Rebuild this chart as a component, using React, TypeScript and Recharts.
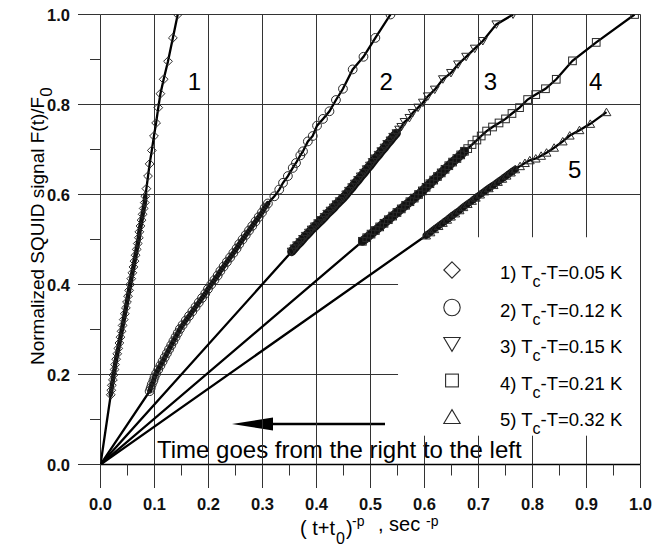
import React from 'react';
import {
  ComposedChart,
  Scatter,
  XAxis,
  YAxis,
  ReferenceLine,
  ReferenceDot,
  Customized,
} from 'recharts';

// ---------- data ----------
const ORIGIN: [number, number] = [0, 0];

// series 1: Tc-T = 0.05 K (diamonds)
const S1: [number, number][] = [
  [0.019, 0.155], [0.02, 0.165], [0.021, 0.176], [0.023, 0.188], [0.024, 0.199],
  [0.026, 0.211], [0.027, 0.222], [0.029, 0.234], [0.031, 0.246], [0.033, 0.258],
  [0.035, 0.27], [0.037, 0.283], [0.039, 0.296], [0.041, 0.309], [0.043, 0.322],
  [0.045, 0.335], [0.047, 0.348], [0.049, 0.361], [0.051, 0.374], [0.053, 0.387],
  [0.055, 0.4], [0.057, 0.413], [0.059, 0.426], [0.061, 0.439], [0.063, 0.452],
  [0.065, 0.465], [0.067, 0.478], [0.069, 0.491], [0.071, 0.504], [0.072, 0.517],
  [0.074, 0.53], [0.076, 0.543], [0.078, 0.556], [0.08, 0.569], [0.082, 0.582],
  [0.083, 0.596], [0.085, 0.613], [0.088, 0.641], [0.091, 0.668], [0.095, 0.698],
  [0.099, 0.73], [0.103, 0.759], [0.107, 0.793], [0.111, 0.824], [0.117, 0.856],
  [0.125, 0.896], [0.134, 0.948], [0.143, 1.0],
];

// series 2: Tc-T = 0.12 K (circles)
const S2: [number, number][] = [
  [0.091, 0.163], [0.093, 0.17], [0.095, 0.178], [0.098, 0.186], [0.1, 0.194],
  [0.103, 0.202], [0.107, 0.211], [0.111, 0.22], [0.115, 0.229], [0.119, 0.238],
  [0.123, 0.247], [0.127, 0.256], [0.131, 0.265], [0.135, 0.274], [0.139, 0.283],
  [0.143, 0.292], [0.147, 0.301], [0.152, 0.31], [0.158, 0.32], [0.164, 0.33],
  [0.17, 0.34], [0.176, 0.35], [0.182, 0.36], [0.188, 0.37], [0.194, 0.38],
  [0.199, 0.39], [0.205, 0.4], [0.211, 0.41], [0.217, 0.42], [0.222, 0.43],
  [0.228, 0.44], [0.234, 0.45], [0.24, 0.46], [0.246, 0.47], [0.252, 0.48],
  [0.257, 0.49], [0.263, 0.5], [0.269, 0.51], [0.275, 0.52], [0.281, 0.53],
  [0.287, 0.54], [0.293, 0.55], [0.299, 0.56], [0.304, 0.57], [0.31, 0.58],
  [0.322, 0.596], [0.331, 0.611], [0.338, 0.626], [0.347, 0.641], [0.356, 0.659],
  [0.362, 0.67], [0.37, 0.687], [0.375, 0.696], [0.384, 0.718], [0.393, 0.73],
  [0.401, 0.753], [0.412, 0.768], [0.424, 0.785], [0.436, 0.81], [0.449, 0.835],
  [0.467, 0.878], [0.487, 0.906], [0.509, 0.948], [0.537, 1.0],
];

// series 3: Tc-T = 0.15 K (down triangles)
const S3: [number, number][] = [
  [0.354, 0.473], [0.359, 0.48], [0.364, 0.487], [0.37, 0.494], [0.375, 0.501],
  [0.38, 0.508], [0.386, 0.515], [0.391, 0.522], [0.397, 0.529], [0.403, 0.536],
  [0.409, 0.543], [0.415, 0.55], [0.42, 0.557], [0.426, 0.564], [0.432, 0.571],
  [0.437, 0.578], [0.443, 0.585], [0.449, 0.592], [0.455, 0.6], [0.46, 0.608],
  [0.466, 0.616], [0.471, 0.624], [0.477, 0.632], [0.482, 0.64], [0.488, 0.648],
  [0.493, 0.656], [0.499, 0.664], [0.504, 0.672], [0.509, 0.68], [0.515, 0.688],
  [0.52, 0.696], [0.526, 0.704], [0.531, 0.712], [0.537, 0.72], [0.542, 0.728],
  [0.548, 0.736], [0.553, 0.744], [0.557, 0.75], [0.563, 0.761], [0.572, 0.77],
  [0.578, 0.781], [0.588, 0.793], [0.597, 0.804], [0.606, 0.818], [0.619, 0.833],
  [0.634, 0.856], [0.649, 0.87], [0.662, 0.889], [0.677, 0.906], [0.693, 0.924],
  [0.708, 0.941], [0.733, 0.978], [0.764, 1.0],
];

// series 4: Tc-T = 0.21 K (squares)
const S4: [number, number][] = [
  [0.485, 0.496], [0.493, 0.504], [0.501, 0.512], [0.509, 0.52], [0.517, 0.528],
  [0.525, 0.536], [0.533, 0.544], [0.541, 0.552], [0.549, 0.56], [0.557, 0.568],
  [0.565, 0.576], [0.573, 0.584], [0.581, 0.592], [0.589, 0.6], [0.596, 0.608],
  [0.603, 0.616], [0.61, 0.624], [0.617, 0.632], [0.624, 0.64], [0.631, 0.648],
  [0.638, 0.656], [0.645, 0.664], [0.652, 0.672], [0.66, 0.68], [0.667, 0.688],
  [0.674, 0.696], [0.68, 0.702], [0.688, 0.711], [0.697, 0.721], [0.705, 0.73],
  [0.715, 0.741], [0.726, 0.75], [0.738, 0.759], [0.75, 0.768], [0.762, 0.78],
  [0.776, 0.793], [0.791, 0.811], [0.806, 0.822], [0.824, 0.835], [0.844, 0.856],
  [0.874, 0.897], [0.918, 0.938], [0.989, 1.0],
];

// series 5: Tc-T = 0.32 K (up triangles)
const S5: [number, number][] = [
  [0.603, 0.509], [0.611, 0.516], [0.618, 0.523], [0.626, 0.53], [0.634, 0.537],
  [0.642, 0.544], [0.649, 0.551], [0.657, 0.558], [0.665, 0.565], [0.672, 0.572],
  [0.68, 0.579], [0.688, 0.586], [0.695, 0.593], [0.703, 0.6], [0.711, 0.607],
  [0.719, 0.614], [0.728, 0.621], [0.736, 0.628], [0.744, 0.635], [0.752, 0.642],
  [0.76, 0.649], [0.768, 0.656], [0.777, 0.663], [0.786, 0.67], [0.795, 0.676],
  [0.806, 0.68], [0.816, 0.686], [0.826, 0.693], [0.84, 0.704], [0.856, 0.718],
  [0.869, 0.731], [0.887, 0.743], [0.907, 0.757], [0.937, 0.783],
];

const SERIES_DATA = [S1, S2, S3, S4, S5];
const SERIES_SHAPES = ['diamond', 'circle', 'triangleDown', 'square', 'triangleUp'];
const DT_VALUES = ['0.05', '0.12', '0.15', '0.21', '0.32'];
// leading points of each series that crowd into a solid band
const DENSE_COUNT = [36, 45, 36, 26, 22];
const CURVE_LABELS = ['1', '2', '3', '4', '5'];
const CURVE_LABEL_POS: [number, number][] = [
  [0.174, 0.851], [0.529, 0.851], [0.722, 0.851], [0.917, 0.851], [0.878, 0.656],
];

const X_TICKS = [0, 0.05, 0.1, 0.15, 0.2, 0.25, 0.3, 0.35, 0.4, 0.45, 0.5, 0.55, 0.6, 0.65, 0.7, 0.75, 0.8, 0.85, 0.9, 0.95, 1.0];
const Y_TICKS = [0, 0.2, 0.4, 0.6, 0.8, 1.0];
const Y_MINOR = [0.1, 0.3, 0.5, 0.7, 0.9];

const GRID_X_FULL = [0.1, 0.2, 0.3, 0.4, 0.5, 1.0];
const GRID_X_SPLIT = [0.6, 0.7, 0.8, 0.9];
const GRID_Y_FULL = [0.6, 0.8, 1.0];
const GRID_Y_SHORT = [0.2, 0.4];
// legend box (data units) that hides the grid
const BOX_X0 = 0.551;
const BOX_Y0 = 0.064;
const BOX_Y1 = 0.505;

const toPts = (a: [number, number][]) => a.map(([x, y]) => ({ x, y }));

// ---------- layout / style ----------
const FONT = '"Liberation Sans", Arial, Helvetica, sans-serif';
const GRID = '#333';
const MARK = '#2a2a2a';
const BAND_WIDTH = [4.5, 5, 9, 9, 7];
const PLOT_LEFT = 100.5;
const PLOT_TOP = 14.5;
const PLOT_H = 450;

// ---------- markers ----------
function Marker({ kind, cx, cy, s, sw }: { kind: string; cx: number; cy: number; s: number; sw: number }) {
  const common = { fill: 'none', stroke: MARK, strokeWidth: sw };
  if (kind === 'diamond')
    return <path d={`M${cx},${cy - s}L${cx + s},${cy}L${cx},${cy + s}L${cx - s},${cy}Z`} {...common} />;
  if (kind === 'circle') return <circle cx={cx} cy={cy} r={s} {...common} />;
  if (kind === 'square') {
    const h = s * 0.8;
    return <rect x={cx - h} y={cy - h} width={2 * h} height={2 * h} {...common} />;
  }
  if (kind === 'triangleDown')
    return <path d={`M${cx - s},${cy - s * 0.8}L${cx + s},${cy - s * 0.8}L${cx},${cy + s * 0.9}Z`} {...common} />;
  return <path d={`M${cx - s},${cy + s * 0.8}L${cx + s},${cy + s * 0.8}L${cx},${cy - s * 0.9}Z`} {...common} />;
}

const makeShape = (kind: string) => (props: any) => {
  const { cx, cy } = props;
  if (cx == null || cy == null) return <g />;
  return <Marker kind={kind} cx={cx} cy={cy} s={kind === 'square' ? 4.8 : 4.4} sw={1} />;
};

const EmptyShape = () => <g />;

// ---------- x ticks ----------
const XTick = (props: any) => {
  const { x, y, payload } = props;
  const v = payload.value as number;
  const major = Math.abs(v * 10 - Math.round(v * 10)) < 1e-6;
  return (
    <g>
      <line x1={x} x2={x} y1={y} y2={y + (major ? 23.5 : 11)} stroke={GRID} strokeWidth={1} />
      {major && (
        <text x={x} y={y + 45} textAnchor="middle" fontFamily={FONT} fontSize={16.5} fontWeight="bold" fill="#111">
          {v.toFixed(1)}
        </text>
      )}
    </g>
  );
};

// ---------- overlay: y ticks, titles, legend, arrow ----------
const LEGEND_ROWS = [272, 309.5, 346, 382.5, 419];
const yPix = (v: number) => PLOT_TOP + (1 - v) * PLOT_H;

const Overlay = () => (
  <g fontFamily={FONT}>
    {/* y ticks and labels */}
    {Y_TICKS.map((v) => (
      <g key={`yt${v}`}>
        <line x1={PLOT_LEFT - 22.5} x2={PLOT_LEFT} y1={yPix(v)} y2={yPix(v)} stroke={GRID} strokeWidth={1} />
        <text x={PLOT_LEFT - 30.5} y={yPix(v) + 6} textAnchor="end" fontSize={16.5} fontWeight="bold" fill="#111">
          {v.toFixed(1)}
        </text>
      </g>
    ))}
    {Y_MINOR.map((v) => (
      <line key={`ym${v}`} x1={PLOT_LEFT - 10.5} x2={PLOT_LEFT} y1={yPix(v)} y2={yPix(v)} stroke={GRID} strokeWidth={1} />
    ))}
    {/* y-axis title */}
    <text transform="rotate(-90)" x={-365} y={44} fontSize={19} fill="#000">
      Normalized SQUID signal F(t)/F
      <tspan fontSize={17} dy={8}>0</tspan>
    </text>
    {/* x-axis title */}
    <text fill="#000">
      <tspan x={300} y={535} fontSize={20}>( t+t</tspan>
      <tspan x={336} y={544} fontSize={16}>0</tspan>
      <tspan x={346} y={535} fontSize={20}>)</tspan>
      <tspan x={352} y={526} fontSize={14}>-p</tspan>
      <tspan x={378} y={531} fontSize={20}>, sec</tspan>
      <tspan x={426} y={526} fontSize={14}>-p</tspan>
    </text>
    {/* arrow */}
    <line x1={262} x2={385} y1={424} y2={424} stroke="#000" strokeWidth={2.6} />
    <path d="M232,424L273,417.5L273,430.5Z" fill="#000" />
    <text x={157} y={458} fontSize={24} fill="#000">Time goes from the right to the left</text>
    {/* legend */}
    {SERIES_SHAPES.map((kind, i) => (
      <g key={kind}>
        <Marker kind={kind} cx={452} cy={LEGEND_ROWS[i] - 2} s={kind === 'square' ? 8 : 8.2} sw={1.1} />
        <text x={500} y={LEGEND_ROWS[i] + 7} fontSize={18.5} fill="#000">
          {`${i + 1}) T`}
          <tspan fontSize={16} dy={8}>c</tspan>
          <tspan dy={-8}>{`-T=${DT_VALUES[i]} K`}</tspan>
        </text>
      </g>
    ))}
  </g>
);

export default function App() {
  return (
    <div style={{ position: 'absolute', left: 0, top: 0, width: 655, height: 549, background: '#fff' }}>
      <ComposedChart
        width={655}
        height={549}
        margin={{ top: 14.5, right: 14.5, bottom: 14.5, left: 40.5 }}
        style={{ background: '#fff' }}
      >
        <XAxis
          type="number"
          dataKey="x"
          domain={[0, 1]}
          ticks={X_TICKS}
          interval={0}
          tickSize={0}
          tickMargin={0}
          tick={<XTick />}
          tickLine={false}
          axisLine={{ stroke: '#000', strokeWidth: 1.3 }}
          height={70}
          allowDataOverflow
        />
        <YAxis
          type="number"
          dataKey="y"
          domain={[0, 1]}
          ticks={Y_TICKS}
          tick={false}
          tickLine={false}
          axisLine={{ stroke: GRID, strokeWidth: 1 }}
          width={60}
          allowDataOverflow
        />
        {GRID_X_FULL.map((v) => (
          <ReferenceLine key={`gx${v}`} x={v} stroke={GRID} strokeWidth={1} />
        ))}
        {GRID_X_SPLIT.map((v) => (
          <ReferenceLine key={`gxa${v}`} segment={[{ x: v, y: 0 }, { x: v, y: BOX_Y0 }]} stroke={GRID} strokeWidth={1} />
        ))}
        {GRID_X_SPLIT.map((v) => (
          <ReferenceLine key={`gxb${v}`} segment={[{ x: v, y: BOX_Y1 }, { x: v, y: 1 }]} stroke={GRID} strokeWidth={1} />
        ))}
        {GRID_Y_FULL.map((v) => (
          <ReferenceLine key={`gy${v}`} y={v} stroke={GRID} strokeWidth={1} />
        ))}
        {GRID_Y_SHORT.map((v) => (
          <ReferenceLine key={`gys${v}`} segment={[{ x: 0, y: v }, { x: BOX_X0, y: v }]} stroke={GRID} strokeWidth={1} />
        ))}
        {SERIES_DATA.map((d, i) => (
          <Scatter
            key={`line${i}`}
            data={toPts([ORIGIN, ...d])}
            line={{ stroke: '#000', strokeWidth: 2.3 }}
            lineType="joint"
            shape={EmptyShape}
            isAnimationActive={false}
          />
        ))}
        {SERIES_DATA.map((d, i) => (
          <Scatter
            key={`band${i}`}
            data={toPts(d.slice(0, DENSE_COUNT[i]))}
            line={{ stroke: '#111', strokeWidth: BAND_WIDTH[i], strokeLinecap: 'round' }}
            lineType="joint"
            shape={EmptyShape}
            isAnimationActive={false}
          />
        ))}
        {SERIES_DATA.map((d, i) => (
          <Scatter
            key={`pts${i}`}
            data={toPts(d)}
            shape={makeShape(SERIES_SHAPES[i])}
            isAnimationActive={false}
          />
        ))}
        {CURVE_LABELS.map((t, i) => (
          <ReferenceDot
            key={`cl${t}`}
            x={CURVE_LABEL_POS[i][0]}
            y={CURVE_LABEL_POS[i][1]}
            r={1}
            fill="none"
            stroke="none"
            label={{ value: t, position: 'center', fontSize: 24, fill: '#000', fontFamily: FONT }}
          />
        ))}
        <Customized component={Overlay} />
      </ComposedChart>
    </div>
  );
}
